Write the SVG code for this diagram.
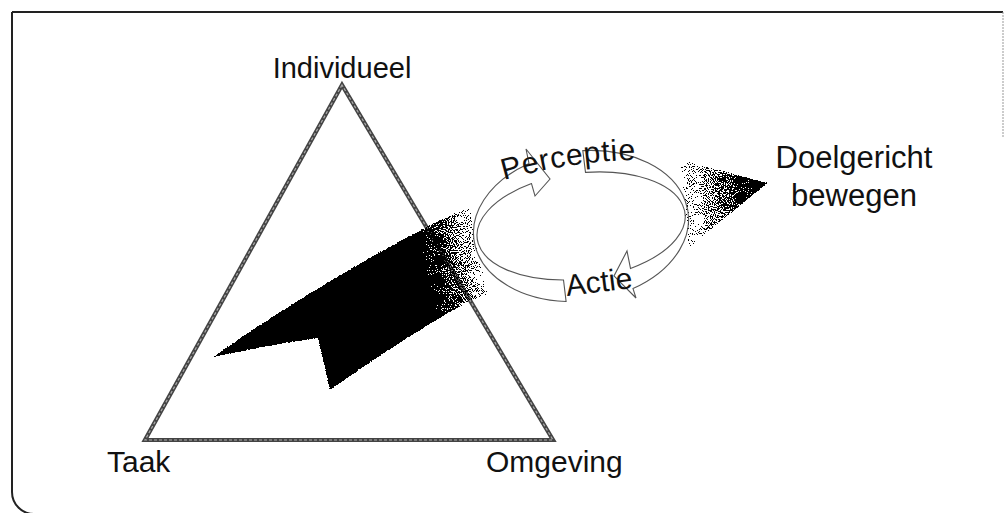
<svg xmlns="http://www.w3.org/2000/svg" width="1005" height="513" viewBox="0 0 1005 513">
  <style>
    .lbl { font-family: "Liberation Sans", Arial, sans-serif; fill: #111; }
    .ring { fill: none; stroke: #555; stroke-width: 1.1; stroke-linejoin: miter; }
    .tri-outer { fill: none; stroke: #444; stroke-width: 4.2; stroke-linejoin: miter; }
    .tri-inner { fill: none; stroke: #aaa; stroke-width: 1.2; stroke-dasharray: 3 2; }
  </style>
  <defs>
    <linearGradient id="bodyFade" gradientUnits="userSpaceOnUse" x1="424" y1="262" x2="488" y2="248">
      <stop offset="0" stop-color="#000" stop-opacity="1"/>
      <stop offset="1" stop-color="#000" stop-opacity="0.02"/>
    </linearGradient>
    <linearGradient id="headFade" gradientUnits="userSpaceOnUse" x1="680" y1="200" x2="755" y2="192">
      <stop offset="0" stop-color="#000" stop-opacity="0.02"/>
      <stop offset="1" stop-color="#000" stop-opacity="1"/>
    </linearGradient>
    <filter id="stipple" filterUnits="userSpaceOnUse" x="150" y="140" width="660" height="280" color-interpolation-filters="sRGB">
      <feTurbulence type="fractalNoise" baseFrequency="0.95" numOctaves="1" seed="7" result="noise"/>
      <feColorMatrix in="noise" type="matrix" values="0 0 0 0 0  0 0 0 0 0  0 0 0 0 0  2.6 0 0 0 -0.8" result="nA"/>
      <feComposite in="SourceGraphic" in2="nA" operator="arithmetic" k1="0" k2="1" k3="-1" k4="0.52" result="diff"/>
      <feComponentTransfer in="diff" result="dots">
        <feFuncR type="linear" slope="0" intercept="0"/>
        <feFuncG type="linear" slope="0" intercept="0"/>
        <feFuncB type="linear" slope="0" intercept="0"/>
        <feFuncA type="discrete" tableValues="0 1"/>
      </feComponentTransfer>
      <feComponentTransfer in="SourceAlpha" result="shape">
        <feFuncA type="linear" slope="1000" intercept="0"/>
      </feComponentTransfer>
      <feComposite in="dots" in2="shape" operator="in"/>
    </filter>
  </defs>

  <rect width="1005" height="513" fill="#fff"/>

  <g id="frame">
    <path d="M 12,12 H 1003" fill="none" stroke="#222" stroke-width="2"/>
    <path d="M 12,12 V 492 A 22 22 0 0 0 34 514" fill="none" stroke="#222" stroke-width="2"/>
    <path d="M 1003,12 V 137" fill="none" stroke="#999" stroke-width="1" stroke-dasharray="2 1"/>
  </g>

  <g id="node-triangle">
    <polygon class="tri-outer" points="342,85 145,440 553,440"/>
    <polygon class="tri-inner" points="342,85 145,440 553,440"/>
  </g>

  <g id="connectors">
    <path id="arrow-main" filter="url(#stipple)" d="M 213,357 Q 320,282 440,220 L 469,208 L 487,295 L 467,302 Q 400,340 330,390 L 318,338 Q 267,345 213,357 Z" fill="url(#bodyFade)"/>
    <path id="arrow-goal" filter="url(#stipple)" d="M 680,160 Q 686,205 688,248 L 767,183 Z" fill="url(#headFade)"/>
    <path id="arrow-perceptie" class="ring" d="M 563.5,280 L 566.1,301.5 A 108 75 -7 0 1 529,163.4 L 526,149 L 550,179 L 535,196 L 531.5,183.6 A 105 53 -7 0 0 563.5,280 Z"/>
    <path id="arrow-actie" class="ring" d="M 582.8,150.6 A 108 75 -7 0 1 633,288.6 L 636,298 L 614,276 L 627,251 L 630.5,268.4 A 105 53 -7 0 0 585.5,172.4 Z"/>
    <path id="perceptie-path" d="M 504,180 C 540,170 590,159 648,160" fill="none"/>
  </g>

  <g id="node-individueel"><text class="lbl" x="342" y="78" font-size="29" text-anchor="middle">Individueel</text></g>
  <g id="node-taak"><text class="lbl" x="107" y="472" font-size="30">Taak</text></g>
  <g id="node-omgeving"><text class="lbl" x="486" y="472" font-size="30">Omgeving</text></g>
  <g id="node-doel">
    <text class="lbl" x="854" y="168" font-size="31" text-anchor="middle">Doelgericht</text>
    <text class="lbl" x="854" y="206" font-size="31" text-anchor="middle">bewegen</text>
  </g>
  <g id="label-perceptie"><text class="lbl" font-size="30" letter-spacing="0.8"><textPath href="#perceptie-path">Perceptie</textPath></text></g>
  <g id="label-actie"><text class="lbl" x="567" y="296" font-size="30" transform="rotate(-7 567 296)">Actie</text></g>
</svg>
